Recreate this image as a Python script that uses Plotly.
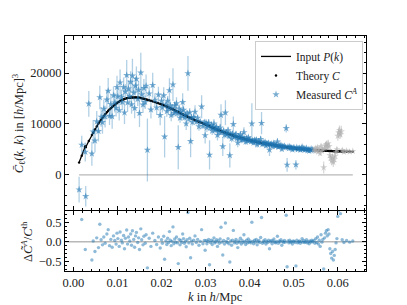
import numpy as np
import plotly.graph_objects as go
from plotly.subplots import make_subplots

# ---------------- data ----------------
# k in units of 1e-4 h/Mpc, theory C, residual (percent), error (percent of theory)
k_blue_e4 = [13, 19, 27, 28, 35, 42, 45, 49, 53, 57, 60, 63, 66, 69, 72, 76, 79, 82, 85, 88, 91, 94, 97, 99,
             101, 104, 106, 109, 111, 114, 116, 118, 121, 123, 125, 128, 130, 132, 134, 137, 139, 141, 143, 146,
             148, 150, 153, 155, 158, 160, 163, 165, 168, 172, 176, 180, 185, 189, 193, 197,
             200, 202, 205, 207, 210, 212, 214, 216, 218, 220, 222, 224, 226, 228, 230, 232, 234, 236, 238, 240,
             242, 244, 246, 248, 250, 252, 254, 256, 258, 260, 262, 264, 266, 268, 270, 273, 276, 279, 282, 285,
             288, 291, 294, 297, 299,
             301, 303, 305, 307, 309, 311, 313, 315, 317, 319, 321, 323, 325, 327, 329, 331, 333, 335, 337, 339,
             341, 343, 345, 347, 349, 351, 353, 355, 357, 359, 361, 363, 365, 367, 369, 371, 373, 375, 377, 379,
             381, 383, 385, 387, 389, 391, 393, 395, 397, 399,
             401, 403, 405, 407, 409, 411, 413, 415, 417, 419, 421, 423, 425, 427, 429, 431, 433, 435, 437, 439,
             441, 443, 445, 447, 449, 451, 453, 455, 457, 459, 461, 463, 465, 467, 469, 471, 473, 475, 477, 479,
             481, 483, 485, 487, 489, 491, 493, 495, 497, 499, 501, 503, 505, 507, 509, 511, 513, 515, 517, 519,
             521, 523, 525, 527, 529, 531, 533, 535, 537, 539, 541, 543]
c_th_blue = [2400, 3750, 5600, 5420, 6650, 7820, 8300, 8940, 9520, 10080, 10500, 10860, 11220, 11580, 11900, 12300,
             12600, 12860, 13100, 13340, 13570, 13780, 13990, 14130,
             14250, 14400, 14500, 14650, 14735, 14840, 14910, 14980, 15065, 15095, 15125, 15170, 15200, 15206, 15212,
             15221, 15227, 15222, 15206, 15182, 15166, 15150, 15090, 15050, 14990, 14950, 14875, 14825, 14750, 14650,
             14550, 14450, 14300, 14180, 14060, 13940,
             13850, 13780, 13675, 13605, 13500, 13420, 13340, 13260, 13180, 13100, 13020, 12940, 12860, 12780, 12700,
             12610, 12520, 12430, 12340, 12250, 12160, 12070, 11980, 11890, 11800, 11720, 11640, 11560, 11480, 11400,
             11320, 11240, 11160, 11080, 11000, 10880, 10760, 10640, 10530, 10425, 10320, 10215, 10110, 10005, 9935,
             9860, 9780, 9700, 9620, 9540, 9460, 9380, 9300, 9220, 9140, 9065, 8995, 8925, 8855, 8785, 8715, 8645,
             8575, 8505, 8435, 8370, 8310, 8250, 8190, 8130, 8070, 8010, 7950, 7890, 7830, 7770, 7710, 7650, 7590,
             7530, 7475, 7425, 7375, 7325, 7275, 7225, 7175, 7125, 7075, 7025, 6980, 6940, 6900, 6860, 6820,
             6780, 6740, 6700, 6660, 6620, 6580, 6540, 6500, 6460, 6420, 6382, 6346, 6310, 6274, 6238, 6203, 6169,
             6135, 6101, 6067, 6035, 6005, 5975, 5945, 5915, 5885, 5855, 5825, 5795, 5765, 5735, 5705, 5675, 5645,
             5615, 5588, 5564, 5540, 5516, 5492, 5468, 5444, 5420, 5396, 5372, 5349, 5327, 5305, 5283, 5261, 5240,
             5220, 5200, 5180, 5160, 5141, 5123, 5105, 5087, 5069, 5052, 5036, 5020, 5004, 4988, 4972, 4956, 4940,
             4924, 4908, 4894, 4882]
res_blue_pct = [-222, 57, -20, -178, 110, -47, 2, -25, 10, -15, 45, 5, -8, 12, -4, 20, 31, -10, 6, -14, 15, 3, -6, 22,
                8, -12, 25, 4, -3, 16, -18, 9, 30, -6, 12, 2, 20, -9, 28, 6, -14, 15, 24, -2, 10, -20, 33, 5, -8, 14,
                -4, 18, -67, 9, -12, 22, 3, -7, 12, -16,
                5, -4, 14, -45, 2, -7, 9, -2, 26, 4, -10, 1, 38, -5, 7, -1, 12, -3, -56, 6, -8, 3, -2, 20, 8, -4, 1,
                -13, 5, 75, -3, 9, -41, 2, -6, 4, 15, -2, 6, -9, 1, 31, -5, 3, -22,
                3, -5, 1, 6, -59, -2, 4, -7, 2, 10, -3, 0, 5, -12, 2, -4, 7, 37, -1, -34, 3, -6, 48, 1, -2, 8, -5,
                -52, 2, -9, 4, 29, -3, 1, 6, -4, -15, 2, -1, 9, -6, 3, -2, 18, 0, -7, 4, -3, 7, -1,
                2, -3, 50, 1, -5, 4, -1, 6, -8, 0, 3, -2, 11, 62, -4, 2, -1, 5, -6, 1, -2, 4, -18, 0, 3, -5, 2, 7,
                -1, -3, 1, 14, -4, 2, 0, 5, -9, 1, -2, 3, -1, 68, -64, 2, -3, 4, -1, 0, -6, 2, 1, -2, -62, 4, -3, 0,
                2, -4, 1, 8, -1, 3, -2, 0, 5, -3, 1, -5, 2, -1, 4, 0]
err_blue_pct = [105, 48, 33, 37, 38, 30, 28, 25, 22, 20, 22, 18, 20, 16, 18, 15, 20, 14, 15, 18, 13, 14, 12, 16,
                12, 14, 18, 10, 11, 13, 15, 10, 20, 12, 11, 9, 14, 12, 22, 10, 13, 11, 16, 9, 12, 18, 26, 10, 11, 12,
                9, 15, 42, 10, 12, 17, 9, 10, 11, 14,
                8, 7, 12, 30, 6, 8, 7, 6, 18, 6, 9, 5, 25, 6, 7, 5, 10, 6, 35, 7, 8, 5, 6, 15, 7, 5, 6, 11, 6, 30, 5,
                8, 28, 5, 6, 5, 12, 5, 6, 8, 5, 22, 6, 5, 16,
                8, 9, 7, 8, 30, 7, 8, 9, 7, 10, 8, 7, 8, 12, 7, 8, 9, 25, 7, 22, 8, 8, 30, 7, 7, 9, 8, 30, 7, 9,
                7, 20, 7, 7, 8, 7, 12, 7, 7, 9, 8, 7, 7, 14, 7, 8, 7, 7, 8, 7,
                7, 7, 60, 6, 7, 7, 6, 8, 9, 6, 7, 6, 10, 35, 7, 6, 6, 7, 8, 6, 6, 7, 20, 6, 7, 7, 6, 9, 6, 6,
                6, 12, 7, 6, 6, 7, 9, 6, 6, 6, 6, 15, 25, 6, 6, 7, 6, 6, 8, 6, 6, 6, 18, 7, 6, 6, 6, 7, 6, 9,
                6, 6, 6, 6, 7, 6, 6, 8, 6, 6, 7, 6]

k_grey_e4 = [546, 548, 550, 552, 554, 556, 558, 560, 562, 564, 566, 568, 570, 572, 574, 576, 578, 580, 582, 584,
             586, 588, 590, 592, 594, 596, 598, 600, 602, 604, 606, 608, 610, 614, 620, 627, 634]
c_th_grey = [4864, 4852, 4840, 4828, 4816, 4804, 4792, 4780, 4770, 4760, 4750, 4740, 4730, 4722, 4714, 4706, 4698,
             4690, 4682, 4674, 4666, 4658, 4650, 4644, 4638, 4632, 4626, 4620, 4616, 4612, 4608, 4604, 4600, 4592,
             4580, 4575, 4565]
res_grey_pct = [3, -4, 8, -2, 12, -6, 4, -12, 18, -1, 6, -70, 10, 22, 28, 15, 31, 20, -18, -30, -42, -25, -47, -35,
                -20, -3, 8, 65, 80, 90, 72, 85, 5, -2, 3, -1, 2]
err_grey_pct = [4, 5, 6, 5, 8, 6, 5, 10, 10, 6, 7, 25, 8, 12, 14, 10, 16, 12, 12, 15, 18, 14, 20, 16, 12, 8, 10, 20,
                22, 20, 18, 25, 10, 8, 6, 5, 5]

# ---------------- derived quantities ----------------
kb = np.array(k_blue_e4) * 1e-4
kg = np.array(k_grey_e4) * 1e-4
thb = np.array(c_th_blue, float)
thg = np.array(c_th_grey, float)
mb = thb * (1 + np.array(res_blue_pct) / 100)
mg = thg * (1 + np.array(res_grey_pct) / 100)
eb = thb * np.array(err_blue_pct) / 100
eg = thg * np.array(err_grey_pct) / 100
k_all = np.concatenate([kb, kg])
th_all = np.concatenate([thb, thg])
res_all = np.concatenate([res_blue_pct, res_grey_pct]) / 100

BLUE = "31,119,180"
FONT = "Liberation Serif"
TXT = "#222222"

fig = make_subplots(rows=2, cols=1, shared_xaxes=True, row_heights=[0.745, 0.255], vertical_spacing=0.004)

# zero line (top panel) spanning data range
fig.add_trace(go.Scatter(x=[k_all[0], k_all[-1]], y=[0, 0], mode="lines",
                         line=dict(color="#b8b8b8", width=1.3), showlegend=False, hoverinfo="skip"), row=1, col=1)
fig.add_trace(go.Scatter(x=k_all, y=th_all, mode="lines", line=dict(color="black", width=1.3),
                         name="Input <i>P</i>(<i>k</i>)"), row=1, col=1)
fig.add_trace(go.Scatter(x=k_all, y=th_all, mode="markers", marker=dict(color="black", size=2.4),
                         name="Theory <i>C</i>"), row=1, col=1)
fig.add_trace(go.Scatter(x=kb, y=mb, mode="markers",
                         marker=dict(symbol="star", size=5.5, color=f"rgba({BLUE},0.6)", line=dict(width=0)),
                         error_y=dict(type="data", array=eb, color=f"rgba({BLUE},0.35)", thickness=1.3, width=0),
                         name="Measured <i>C</i><sup><i>A</i></sup>"), row=1, col=1)
fig.add_trace(go.Scatter(x=kg, y=mg, mode="markers",
                         marker=dict(symbol="star", size=5.5, color="rgba(175,175,175,0.55)", line=dict(width=0)),
                         error_y=dict(type="data", array=eg, color="rgba(175,175,175,0.45)", thickness=1.3, width=0),
                         showlegend=False), row=1, col=1)

# residual panel
fig.add_shape(type="line", xref="x2 domain", yref="y2", x0=0, x1=1, y0=0, y1=0,
              line=dict(color="#b8b8b8", width=1.3), layer="below")
fig.add_trace(go.Scatter(x=k_all, y=res_all, mode="markers",
                         marker=dict(size=3.4, color=f"rgba({BLUE},0.5)", line=dict(width=0)),
                         showlegend=False), row=2, col=1)

axis_common = dict(showline=True, linecolor="black", linewidth=1, mirror="allticks", ticks="inside",
                   ticklen=4, tickwidth=1, tickcolor="black", showgrid=False, zeroline=False, automargin=False,
                   tickfont=dict(family=FONT, size=12.5, color=TXT))

fig.update_xaxes(**axis_common, range=[-0.0019, 0.0664], dtick=0.01, tick0=0,
                 minor=dict(ticks="inside", ticklen=2, dtick=0.002, tick0=0, tickcolor="black"))
fig.update_xaxes(tickformat=".2f", row=2, col=1)
fig.update_yaxes(**axis_common)
fig.update_yaxes(range=[-7000, 27300], dtick=10000, tick0=0, tickformat="d",
                 minor=dict(ticks="inside", ticklen=2, dtick=2000, tick0=0, tickcolor="black"),
                 row=1, col=1)
fig.update_yaxes(range=[-0.75, 0.78], dtick=0.5, tick0=0, tickformat=".1f",
                 minor=dict(ticks="inside", ticklen=2, dtick=0.1, tick0=0, tickcolor="black"),
                 row=2, col=1)

title_font = dict(family=FONT, size=12.5, color=TXT)
fig.add_annotation(text="<i>C̄</i><sub>ℓ</sub>(<i>k</i>, <i>k</i>) in [<i>h</i>/Mpc]<sup>3</sup>",
                   xref="paper", yref="paper", x=-0.153, y=0.628, textangle=-90, showarrow=False,
                   xanchor="center", yanchor="middle", font=title_font)
fig.add_annotation(text="Δ<i>C̃</i><sup><i>A</i></sup>/<i>C</i><sup>th</sup>",
                   xref="paper", yref="paper", x=-0.128, y=0.125, textangle=-90, showarrow=False,
                   xanchor="center", yanchor="middle", font=title_font)
fig.add_annotation(text="<i>k</i> in <i>h</i>/Mpc", xref="paper", yref="paper", x=0.5, y=-0.11,
                   showarrow=False, xanchor="center", yanchor="middle", font=title_font)

# page body has an 8px default margin: the figure is sized so the plot area lands where the reference has it
fig.update_layout(
    width=399, height=297, margin=dict(l=57, r=41, t=28, b=34),
    paper_bgcolor="white", plot_bgcolor="white",
    font=dict(family=FONT, size=12.5, color=TXT),
    legend=dict(x=0.99, y=0.979, xanchor="right", yanchor="top", bgcolor="rgba(255,255,255,0.85)",
                bordercolor="#cccccc", borderwidth=1, font=dict(family=FONT, size=11.5, color=TXT),
                itemwidth=30, tracegroupgap=0),
)

fig.write_html("out.html")
